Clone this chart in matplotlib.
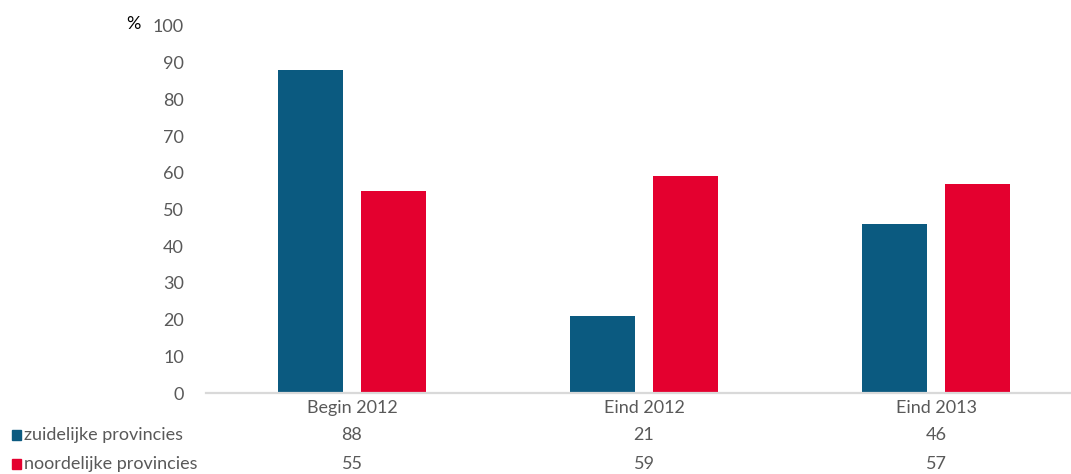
import matplotlib.pyplot as plt
import matplotlib.patches as mpatches
import matplotlib.transforms as mtransforms
import numpy as np

categories = ["Begin 2012", "Eind 2012", "Eind 2013"]
series_names = ["zuidelijke provincies", "noordelijke provincies"]
zuid = [88, 21, 46]
noord = [55, 59, 57]
yticks = [0, 10, 20, 30, 40, 50, 60, 70, 80, 90, 100]

BLUE = "#0b5a80"
RED = "#e4002f"
GREY_TEXT = "#595959"
AXIS_GREY = "#d9d9d9"
FS = 13

plt.rcParams["font.family"] = ["Lato", "DejaVu Sans"]

W, H = 1071, 474
fig = plt.figure(figsize=(W / 100, H / 100), dpi=100)
ax = fig.add_axes([206 / W, 1 - 393 / H, (W - 206) / W, (393 - 26) / H])

x = np.arange(len(categories))
bw = 0.223
off = 0.142
ax.bar(x - off, zuid, width=bw, color=BLUE)
ax.bar(x + off, noord, width=bw, color=RED)

ax.set_xlim(-0.5, -0.5 + (W - 206) / 292)
ax.set_ylim(0, 100)
ax.set_yticks(yticks)
ax.set_yticklabels([str(t) for t in yticks], fontsize=FS, color=GREY_TEXT)
ax.tick_params(axis="y", length=0, pad=16)
ax.set_xticks([])
for side in ["left", "right", "top"]:
    ax.spines[side].set_visible(False)
ax.spines["bottom"].set_color(AXIS_GREY)
ax.spines["bottom"].set_linewidth(1.6)

# table under the chart
trans = mtransforms.blended_transform_factory(ax.transData, fig.transFigure)
rows = [categories, [str(v) for v in zuid], [str(v) for v in noord]]
row_y = [408, 435, 464]
for r, yy in zip(rows, row_y):
    for xi, label in zip(x, r):
        ax.text(xi, 1 - yy / H, label, transform=trans, ha="center", va="center",
                fontsize=FS, color=GREY_TEXT)

for name, color, yy in zip(series_names, [BLUE, RED], row_y[1:]):
    fig.patches.append(mpatches.Rectangle((12 / W, 1 - (yy + 5) / H), 9 / W, 10 / H,
                                          color=color, transform=fig.transFigure))
    fig.text(24 / W, 1 - yy / H, name, ha="left", va="center", fontsize=FS,
             color=GREY_TEXT)

fig.text(133 / W, 1 - 24 / H, "%", ha="center", va="center", fontsize=FS, color="black")

fig.savefig("out.png", dpi=100)
